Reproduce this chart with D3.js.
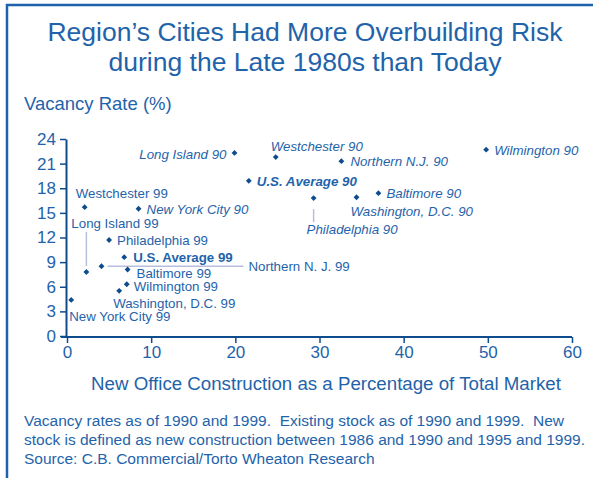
<!DOCTYPE html>
<html>
<head>
<meta charset="utf-8">
<script src="https://cdn.jsdelivr.net/npm/d3@7"></script>
<style>
  body { margin: 0; background: #fff; }
  svg { font-family: "Liberation Sans", Arial, sans-serif; }
  text { white-space: pre; }
</style>
</head>
<body>
<svg id="chart" width="593" height="478"></svg>
<script>
// Data
const cities = ["Wilmington 90", "Long Island 90", "Westchester 90", "Northern N.J. 90", "U.S. Average 90",
  "Baltimore 90", "Washington, D.C. 90", "Philadelphia 90", "New York City 90",
  "Westchester 99", "Long Island 99", "Philadelphia 99", "U.S. Average 99", "Northern N. J. 99",
  "Baltimore 99", "Wilmington 99", "Washington, D.C. 99", "New York City 99"];
const newConstruction = [49.8, 19.9, 24.8, 32.6, 21.6, 37.0, 34.4, 29.3, 8.5,
  2.1, 2.3, 5.0, 6.8, 4.1, 7.2, 7.1, 6.2, 0.5];
const vacancyRate = [22.7, 22.3, 21.8, 21.3, 18.9, 17.4, 16.9, 16.8, 15.5,
  15.7, 7.8, 11.7, 9.6, 8.5, 8.1, 6.3, 5.5, 4.4];
const xTicks = [0, 10, 20, 30, 40, 50, 60];
const yTicks = [0, 3, 6, 9, 12, 15, 18, 21, 24];

// Label placement (pixel offsets from the point)
const labelPlace = {
  "Wilmington 90": { dx: 8, dy: 5 },
  "Long Island 90": { dx: -8, dy: 6, anchor: "end" },
  "Westchester 90": { dx: -5, dy: -6 },
  "Northern N.J. 90": { dx: 9, dy: 5 },
  "U.S. Average 90": { dx: 8, dy: 5 },
  "Baltimore 90": { dx: 8, dy: 5 },
  "Washington, D.C. 90": { dx: -6, dy: 19 },
  "Philadelphia 90": { dx: -7, dy: 36, lead: [11, 24] },
  "New York City 90": { dx: 8, dy: 5 },
  "Westchester 99": { dx: -9, dy: -9 },
  "Long Island 99": { dx: -15, dy: -44, lead: [-40, -6] },
  "Philadelphia 99": { dx: 8, dy: 5 },
  "U.S. Average 99": { dx: 9, dy: 5 },
  "Northern N. J. 99": { dx: 147, dy: 5, hlead: [6, 142] },
  "Baltimore 99": { dx: 9, dy: 8 },
  "Wilmington 99": { dx: 7, dy: 7 },
  "Washington, D.C. 99": { dx: -6, dy: 17 },
  "New York City 99": { dx: -2, dy: 21 }
};

const blue = "#1f63aa";
const dark = "#0f4c8e";
const lead = "#b9bedf";

const svg = d3.select("#chart");

// frame
svg.append("path")
  .attr("d", "M7,478 V5 H593")
  .attr("fill", "none")
  .attr("stroke", "#1c62ad")
  .attr("stroke-width", 2.5);

// title
svg.append("text").attr("x", 305).attr("y", 41).attr("text-anchor", "middle")
  .attr("font-size", 26.5).attr("fill", blue).text("Region\u2019s Cities Had More Overbuilding Risk");
svg.append("text").attr("x", 305).attr("y", 71).attr("text-anchor", "middle")
  .attr("font-size", 26.5).attr("fill", blue).text("during the Late 1980s than Today");

svg.append("text").attr("x", 24).attr("y", 110)
  .attr("font-size", 18.5).attr("fill", blue).text("Vacancy Rate (%)");

const x = d3.scaleLinear().domain([0, 60]).range([67, 572]);
const y = d3.scaleLinear().domain([0, 24]).range([336, 139]);

const xAxis = svg.append("g").attr("transform", "translate(0,337)")
  .call(d3.axisBottom(x).tickValues(xTicks).tickSize(6).tickSizeOuter(0).tickPadding(3));
const yAxis = svg.append("g").attr("transform", "translate(66,0)")
  .call(d3.axisLeft(y).tickValues(yTicks).tickSize(6).tickSizeOuter(0).tickPadding(4));

[xAxis, yAxis].forEach(g => {
  g.select(".domain").attr("stroke", dark).attr("stroke-width", 2);
  g.selectAll(".tick line").attr("stroke", dark).attr("stroke-width", 1.5);
  g.selectAll(".tick text").attr("fill", blue).attr("font-size", 17)
    .attr("font-family", "Liberation Sans, Arial, sans-serif");
});
xAxis.select(".domain").attr("d", "M61,0H572");

svg.append("text").attr("x", 326).attr("y", 390).attr("text-anchor", "middle")
  .attr("font-size", 18.7).attr("fill", blue)
  .text("New Office Construction as a Percentage of Total Market");

// points and labels
const pts = cities.map((c, i) => ({ name: c, x: newConstruction[i], y: vacancyRate[i] }));

const g = svg.append("g");
pts.forEach(d => {
  const p = labelPlace[d.name];
  const px = x(d.x), py = y(d.y);
  if (p.lead) {
    g.append("line").attr("x1", px).attr("x2", px)
      .attr("y1", py + p.lead[0]).attr("y2", py + p.lead[1])
      .attr("stroke", lead).attr("stroke-width", 1.5);
  }
  if (p.hlead) {
    g.append("line").attr("x1", px + p.hlead[0]).attr("x2", px + p.hlead[1])
      .attr("y1", py).attr("y2", py)
      .attr("stroke", lead).attr("stroke-width", 1.5);
  }
});

g.selectAll("path.pt").data(pts).enter().append("path")
  .attr("class", "pt")
  .attr("transform", d => `translate(${x(d.x)},${y(d.y)}) rotate(45)`)
  .attr("d", d3.symbol().type(d3.symbolSquare).size(17))
  .attr("fill", dark);

g.selectAll("text.lbl").data(pts).enter().append("text")
  .attr("class", "lbl")
  .attr("x", d => x(d.x) + labelPlace[d.name].dx)
  .attr("y", d => y(d.y) + labelPlace[d.name].dy)
  .attr("text-anchor", d => labelPlace[d.name].anchor || "start")
  .attr("font-size", 13.3)
  .attr("font-style", d => d.name.endsWith("90") ? "italic" : "normal")
  .attr("font-weight", d => d.name.startsWith("U.S.") ? "bold" : "normal")
  .attr("fill", blue)
  .text(d => d.name);

// footnote
const notes = [
  "Vacancy rates as of 1990 and 1999.  Existing stock as of 1990 and 1999.  New",
  "stock is defined as new construction between 1986 and 1990 and 1995 and 1999.",
  "Source: C.B. Commercial/Torto Wheaton Research"
];
svg.selectAll("text.note").data(notes).enter().append("text")
  .attr("class", "note")
  .attr("x", 24)
  .attr("y", (d, i) => 426 + i * 19)
  .attr("font-size", 15.5)
  .attr("fill", blue)
  .text(d => d);
</script>
</body>
</html>
